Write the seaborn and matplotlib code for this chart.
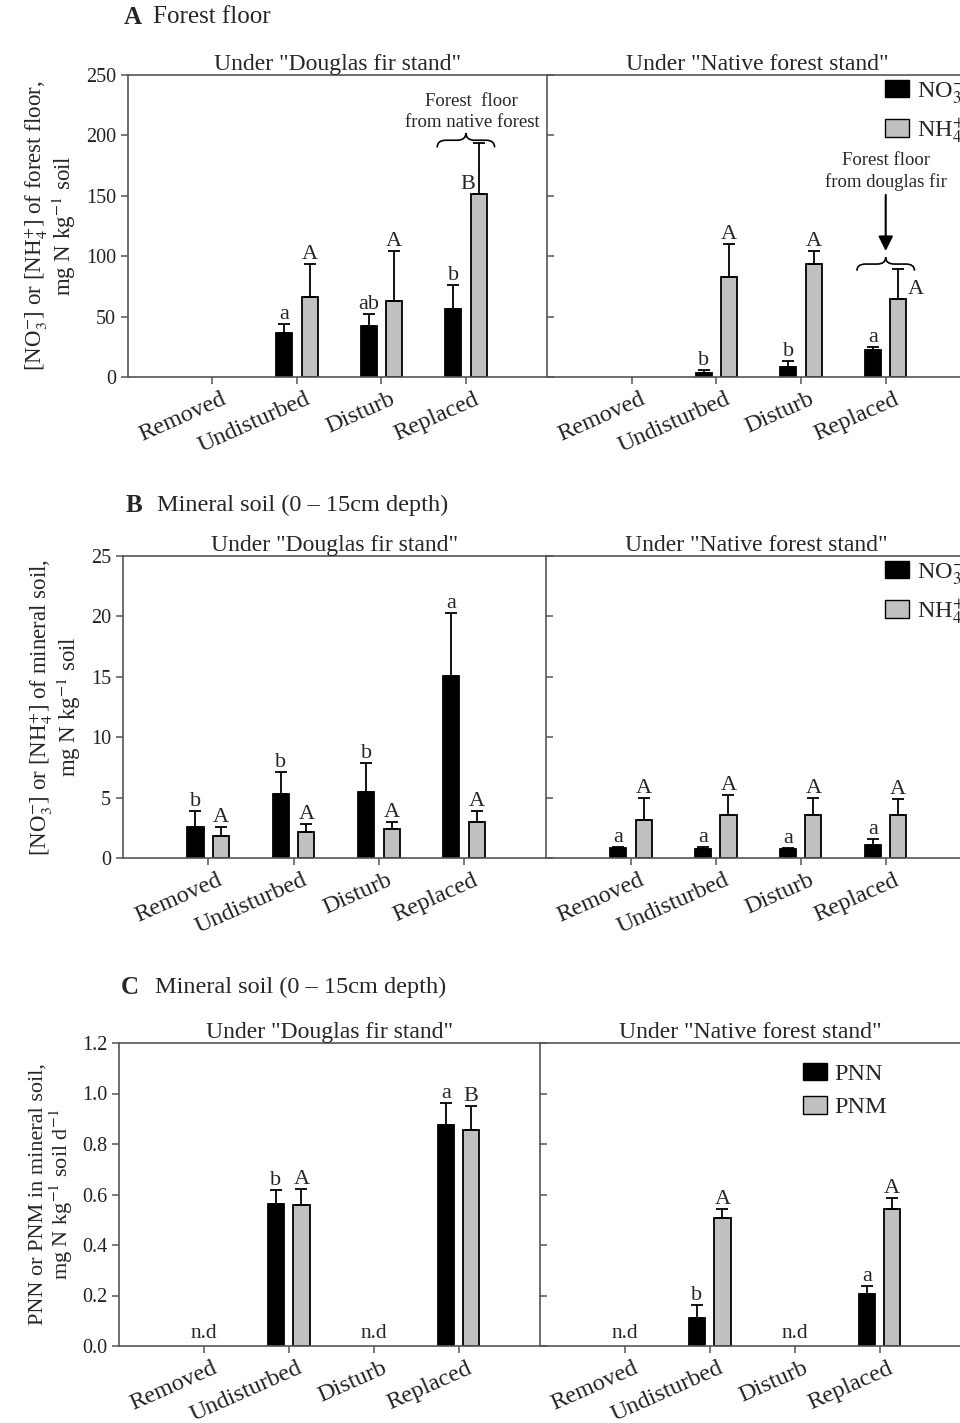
import numpy as np
import pandas as pd
import matplotlib.pyplot as plt
import seaborn as sns
from matplotlib.path import Path
from matplotlib.patches import PathPatch, Patch
from matplotlib.transforms import ScaledTranslation

# ---- data ----
treatments = ["Removed", "Undisturbed", "Disturb", "Replaced"]

# A: forest floor, mg N kg-1 soil
a_df_no3 = [0, 36.5, 42.0, 56.6]
a_df_no3_se = [0, 7.7, 10.0, 19.4]
a_df_nh4 = [0, 66.3, 62.7, 151.4]
a_df_nh4_se = [0, 27.6, 41.7, 42.0]
a_nf_no3 = [0, 3.6, 8.3, 22.1]
a_nf_no3_se = [0, 1.9, 5.0, 2.8]
a_nf_nh4 = [0, 82.9, 93.9, 64.6]
a_nf_nh4_se = [0, 27.6, 10.5, 24.9]
a_df_no3_let = ["", "a", "ab", "b"]
a_df_nh4_let = ["", "A", "A", "B"]
a_nf_no3_let = ["", "b", "b", "a"]
a_nf_nh4_let = ["", "A", "A", "A"]

# B: mineral soil, mg N kg-1 soil
b_df_no3 = [2.6, 5.27, 5.5, 15.03]
b_df_no3_se = [1.3, 1.87, 2.33, 5.27]
b_df_nh4 = [1.84, 2.14, 2.39, 2.97]
b_df_nh4_se = [0.76, 0.66, 0.55, 0.88]
b_nf_no3 = [0.83, 0.74, 0.74, 1.1]
b_nf_no3_se = [0.1, 0.14, 0.09, 0.47]
b_nf_nh4 = [3.17, 3.53, 3.53, 3.53]
b_nf_nh4_se = [1.83, 1.7, 1.47, 1.35]
b_df_no3_let = ["b", "b", "b", "a"]
b_df_nh4_let = ["A", "A", "A", "A"]
b_nf_no3_let = ["a", "a", "a", "a"]
b_nf_nh4_let = ["A", "A", "A", "A"]

# C: PNN / PNM, mg N kg-1 soil d-1
c_df_pnn = [0, 0.564, 0, 0.877]
c_df_pnn_se = [0, 0.053, 0, 0.087]
c_df_pnm = [0, 0.557, 0, 0.857]
c_df_pnm_se = [0, 0.066, 0, 0.093]
c_nf_pnn = [0, 0.112, 0, 0.207]
c_nf_pnn_se = [0, 0.049, 0, 0.030]
c_nf_pnm = [0, 0.505, 0, 0.543]
c_nf_pnm_se = [0, 0.038, 0, 0.043]
c_df_pnn_let = ["", "b", "", "a"]
c_df_pnm_let = ["", "A", "", "B"]
c_nf_pnn_let = ["", "b", "", "a"]
c_nf_pnm_let = ["", "A", "", "A"]
c_not_detected = [True, False, True, False]

# ---- style ----
sns.set_style("ticks")
plt.rcParams["font.family"] = ["Liberation Serif", "DejaVu Serif"]
plt.rcParams["mathtext.fontset"] = "stix"
plt.rcParams["axes.edgecolor"] = "#555555"
plt.rcParams["xtick.color"] = "#555555"
plt.rcParams["ytick.color"] = "#555555"
plt.rcParams["xtick.labelcolor"] = "#222222"
plt.rcParams["ytick.labelcolor"] = "#222222"

BLACK = "#000000"
GRAY = "#c0c0c0"
W, H = 960, 1423
fig = plt.figure(figsize=(W / 100, H / 100), dpi=100)
fig.patch.set_facecolor("white")


def px_axes(x0, y0, x1, y1):
    return fig.add_axes([x0 / W, 1 - y1 / H, (x1 - x0) / W, (y1 - y0) / H])


def brace(ax, xc, half, y0, h):
    # curly brace opening downward, drawn in data coords
    ym = y0 + h * 0.5
    dx = half * 0.3
    verts = [(xc - half, y0), (xc - half, ym), (xc - half + dx, ym),
             (xc - dx, ym), (xc, ym), (xc, y0 + h),
             (xc, y0 + h), (xc, ym), (xc + dx, ym),
             (xc + half - dx, ym), (xc + half, ym), (xc + half, y0)]
    codes = [Path.MOVETO, Path.CURVE3, Path.CURVE3,
             Path.LINETO, Path.CURVE3, Path.CURVE3,
             Path.MOVETO, Path.CURVE3, Path.CURVE3,
             Path.LINETO, Path.CURVE3, Path.CURVE3]
    ax.add_patch(PathPatch(Path(verts, codes), fill=False, lw=1.2, color="black"))


def draw_side(ax, s1, s2, e1, e2, l1, l2, names, special=None):
    special = special or {}
    df = pd.DataFrame({
        "treatment": treatments * 2,
        "value": list(s1) + list(s2),
        "kind": [names[0]] * 4 + [names[1]] * 4,
    })
    sns.barplot(data=df, x="treatment", y="value", hue="kind", order=treatments,
                hue_order=names, palette=[BLACK, GRAY], saturation=1,
                width=0.6, gap=0.37, edgecolor="black", linewidth=1.3,
                errorbar=None, legend=False, ax=ax)
    for k, (cont, errs, lets) in enumerate(zip(ax.containers, [e1, e2], [l1, l2])):
        for i, (bar, err, let) in enumerate(zip(cont, errs, lets)):
            val = bar.get_height()
            if val <= 0:
                bar.set_visible(False)
                continue
            xc = bar.get_x() + bar.get_width() / 2
            ax.errorbar(xc, val, yerr=[[0], [err]], fmt="none", ecolor="black",
                        elinewidth=1.3, capsize=4.5, capthick=1.3)
            mode = special.get((k, i))
            if mode == "right":
                ax.text(bar.get_x() + bar.get_width() + 0.02, val, let,
                        ha="left", va="bottom", fontsize=16)
            elif mode == "on_bar":
                ax.text(xc - 0.13, val, let, ha="center", va="bottom", fontsize=16)
            else:
                ax.text(xc, val + err, let, ha="center", va="bottom", fontsize=16)


def style_pair(axL, axR, ylim, yticks, fmt, title_l, title_r):
    for ax in (axL, axR):
        ax.set_xlim(-1.0, 3.96)
        ax.set_ylim(*ylim)
        ax.set_yticks(yticks)
        ax.set_xlabel("")
        ax.set_ylabel("")
        for sp in ax.spines.values():
            sp.set_visible(True)
            sp.set_linewidth(1.2)
        ax.tick_params(axis="x", direction="out", length=5, width=1.1)
        ax.set_xticks(range(len(treatments)))
        ax.set_xticklabels(treatments, rotation=24, ha="right",
                           rotation_mode="anchor", fontsize=17.5)
        for lab in ax.get_xticklabels():
            lab.set_transform(lab.get_transform() + ScaledTranslation(0.08, 0, fig.dpi_scale_trans))
    axL.spines["right"].set_visible(False)
    axL.tick_params(axis="y", direction="out", length=5, width=1.1, labelsize=14.5)
    axL.set_yticklabels([fmt.format(t) for t in yticks])
    axR.tick_params(axis="y", direction="in", length=5, width=1.1, labelleft=False)
    axL.set_title(title_l, fontsize=17, pad=3)
    axR.set_title(title_r, fontsize=17, pad=3)


def add_legend(ax, labels, anchor):
    handles = [Patch(facecolor=BLACK, edgecolor="black"), Patch(facecolor=GRAY, edgecolor="black")]
    ax.legend(handles, labels, loc="upper left", bbox_to_anchor=anchor,
              frameon=False, fontsize=17.5, handlelength=1.0, handleheight=0.75,
              handletextpad=0.3, borderpad=0, labelspacing=0.45, borderaxespad=0)


t_df = 'Under "Douglas fir stand"'
t_nf = 'Under "Native forest stand"'
ions = ["NO3", "NH4"]
ion_labels = ["NO$_3^{-}$", "NH$_4^{+}$"]

# ---- Panel A ----
axA1 = px_axes(128, 75, 547, 377)
axA2 = px_axes(547, 75, 967, 377)
draw_side(axA1, a_df_no3, a_df_nh4, a_df_no3_se, a_df_nh4_se, a_df_no3_let, a_df_nh4_let, ions,
          special={(1, 3): "on_bar"})
draw_side(axA2, a_nf_no3, a_nf_nh4, a_nf_no3_se, a_nf_nh4_se, a_nf_no3_let, a_nf_nh4_let, ions,
          special={(1, 3): "right"})
style_pair(axA1, axA2, (0, 250), np.arange(0, 251, 50), "{:.0f}", t_df, t_nf)
axA1.set_ylabel("[NO$_3^{-}$] or [NH$_4^{+}$] of forest floor,\nmg N kg$^{-1}$ soil",
                fontsize=16.5, linespacing=1.0)
axA1.yaxis.set_label_coords(-0.12, 0.5)
brace(axA1, 3.0, 0.34, 190, 12)
axA1.text(3.07, 219, "Forest  floor\nfrom native forest", ha="center", va="center",
          fontsize=13.5, linespacing=1.3)
brace(axA2, 3.0, 0.34, 88, 11)
axA2.annotate("", xy=(3.0, 102), xytext=(3.0, 153),
              arrowprops=dict(arrowstyle="-|>", color="black", lw=1.5, mutation_scale=22))
axA2.text(3.0, 170, "Forest floor\nfrom douglas fir", ha="center", va="center",
          fontsize=13.5, linespacing=1.3)
add_legend(axA2, ion_labels, (0.805, 0.985))
fig.text(124 / W, 1 - 17 / H, "A", fontsize=18, fontweight="bold", va="center")
fig.text(153 / W, 1 - 17 / H, "Forest floor", fontsize=18, va="center")

# ---- Panel B ----
axB1 = px_axes(123, 556, 546, 858)
axB2 = px_axes(546, 556, 967, 858)
draw_side(axB1, b_df_no3, b_df_nh4, b_df_no3_se, b_df_nh4_se, b_df_no3_let, b_df_nh4_let, ions)
draw_side(axB2, b_nf_no3, b_nf_nh4, b_nf_no3_se, b_nf_nh4_se, b_nf_no3_let, b_nf_nh4_let, ions)
style_pair(axB1, axB2, (0, 25), np.arange(0, 26, 5), "{:.0f}", t_df, t_nf)
axB1.set_ylabel("[NO$_3^{-}$] or [NH$_4^{+}$] of mineral soil,\nmg N kg$^{-1}$ soil",
                fontsize=16.5, linespacing=1.0)
axB1.yaxis.set_label_coords(-0.095, 0.5)
add_legend(axB2, ion_labels, (0.805, 0.985))
fig.text(126 / W, 1 - 505 / H, "B", fontsize=18, fontweight="bold", va="center")
fig.text(157 / W, 1 - 505 / H, "Mineral soil (0 \u2013 15cm depth)", fontsize=17.5, va="center")

# ---- Panel C ----
axC1 = px_axes(119, 1043, 540, 1346)
axC2 = px_axes(540, 1043, 961, 1346)
draw_side(axC1, c_df_pnn, c_df_pnm, c_df_pnn_se, c_df_pnm_se, c_df_pnn_let, c_df_pnm_let, ["PNN", "PNM"])
draw_side(axC2, c_nf_pnn, c_nf_pnm, c_nf_pnn_se, c_nf_pnm_se, c_nf_pnn_let, c_nf_pnm_let, ["PNN", "PNM"])
style_pair(axC1, axC2, (0, 1.2), np.arange(0, 1.21, 0.2), "{:.1f}", t_df, t_nf)
for ax in (axC1, axC2):
    for i, nd in enumerate(c_not_detected):
        if nd:
            ax.text(i, 0.012, "n.d", ha="center", va="bottom", fontsize=15.5)
axC1.set_ylabel("PNN or PNM in mineral soil,\nmg N kg$^{-1}$ soil d$^{-1}$",
                fontsize=16, linespacing=1.0)
axC1.yaxis.set_label_coords(-0.105, 0.5)
add_legend(axC2, ["PNN", "PNM"], (0.625, 0.935))
fig.text(121 / W, 1 - 987 / H, "C", fontsize=18, fontweight="bold", va="center")
fig.text(155 / W, 1 - 987 / H, "Mineral soil (0 \u2013 15cm depth)", fontsize=17.5, va="center")

fig.savefig("out.png", dpi=100)
